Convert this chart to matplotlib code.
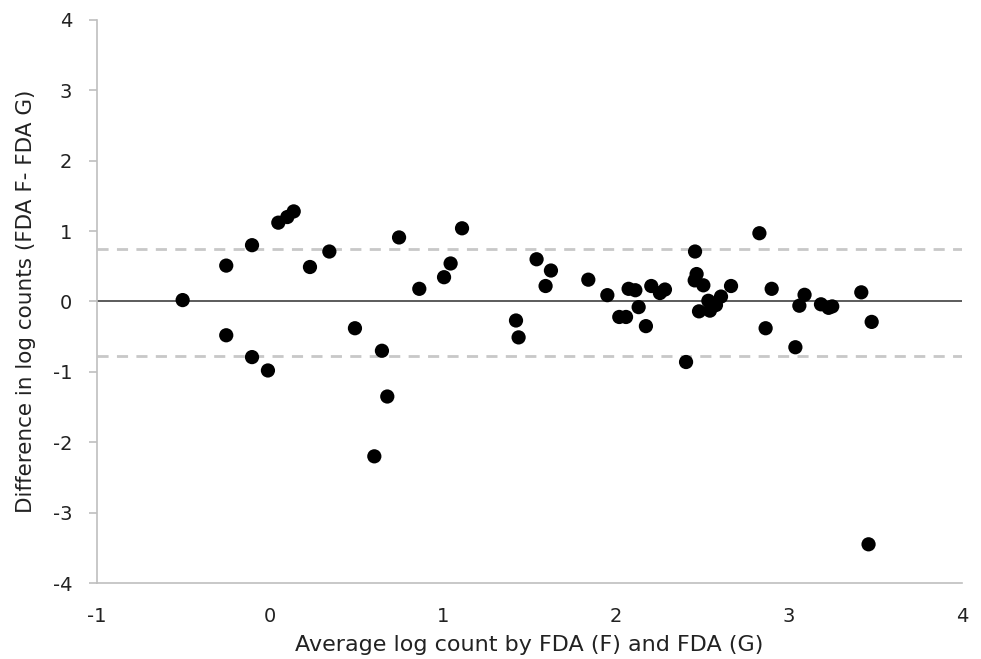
import matplotlib
matplotlib.use("Agg")
import matplotlib.pyplot as plt

# Data (average log count, difference in log counts)
avg_log = [-0.505, -0.253, -0.253, -0.104, -0.104, -0.012, 0.048, 0.10, 0.137,
           0.231, 0.343, 0.491, 0.603, 0.647, 0.678, 0.746, 0.863, 1.006, 1.044,
           1.11, 1.422, 1.437, 1.541, 1.593, 1.624, 1.840, 1.950, 2.019, 2.058,
           2.073, 2.112, 2.131, 2.173, 2.204, 2.254, 2.283, 2.405, 2.457, 2.466,
           2.455, 2.505, 2.480, 2.534, 2.543, 2.578, 2.607, 2.665, 2.829, 2.865,
           2.900, 3.037, 3.06, 3.09, 3.185, 3.229, 3.25, 3.418, 3.478, 3.46]
diff_log = [0.02, 0.51, -0.48, 0.80, -0.79, -0.98, 1.12, 1.20, 1.28,
            0.49, 0.71, -0.38, -2.20, -0.70, -1.35, 0.91, 0.18, 0.345, 0.54,
            1.04, -0.27, -0.51, 0.60, 0.22, 0.44, 0.31, 0.09, -0.22, -0.22,
            0.18, 0.16, -0.08, -0.35, 0.22, 0.12, 0.17, -0.86, 0.71, 0.39,
            0.30, 0.23, -0.14, 0.01, -0.13, -0.05, 0.07, 0.22, 0.97, -0.38,
            0.18, -0.65, -0.06, 0.095, -0.04, -0.09, -0.07, 0.13, -0.29, -3.45]

mean_line = 0.0
upper_limit = 0.74
lower_limit = -0.78

x_ticks = [-1, 0, 1, 2, 3, 4]
y_ticks = [-4, -3, -2, -1, 0, 1, 2, 3, 4]

fig = plt.figure(figsize=(9.81, 6.59), dpi=100)
ax = fig.add_axes([0.0989, 0.1153, 0.8817, 0.8544])

ax.axhline(upper_limit, color="#c8c8c8", lw=2, ls=(0, (4, 3)), zorder=1)
ax.axhline(lower_limit, color="#c8c8c8", lw=2, ls=(0, (4, 3)), zorder=1)
ax.axhline(mean_line, color="#404040", lw=1.2, zorder=1)

ax.scatter(avg_log, diff_log, s=105, color="black", edgecolors="none", zorder=3)

ax.set_xlim(-1, 4)
ax.set_ylim(-4, 4)
ax.set_xticks(x_ticks)
ax.set_yticks(y_ticks)
ax.set_xticklabels([str(t) for t in x_ticks])
ax.set_yticklabels([str(t) for t in y_ticks])

for s in ["top", "right"]:
    ax.spines[s].set_visible(False)
for s in ["left", "bottom"]:
    ax.spines[s].set_color("#bfbfbf")
    ax.spines[s].set_linewidth(1.2)

ax.tick_params(axis="y", length=6, color="#bfbfbf", width=1.2, labelsize=14,
               labelcolor="#222222", pad=12)
ax.tick_params(axis="x", length=0, labelsize=14, labelcolor="#222222", pad=17)

ax.set_xlabel("Average log count by FDA (F) and FDA (G)", fontsize=16,
              color="#222222", labelpad=7)
ax.set_ylabel("Difference in log counts (FDA F- FDA G)", fontsize=15.5,
              color="#222222", labelpad=12)

fig.savefig("out.png", dpi=100)
